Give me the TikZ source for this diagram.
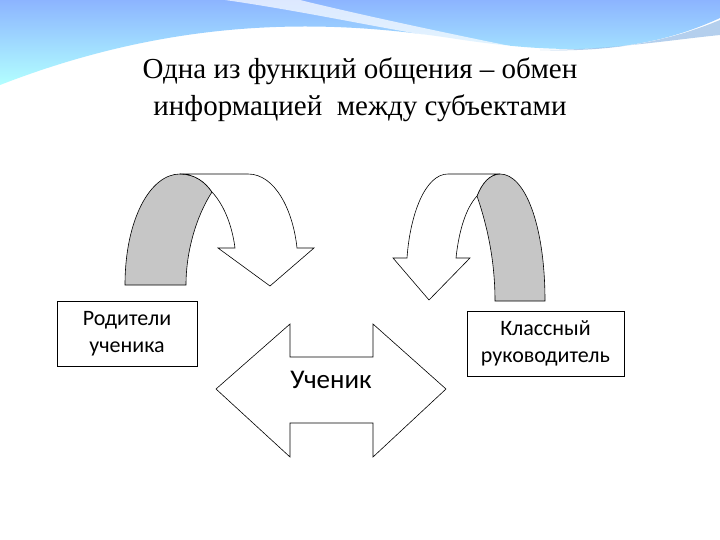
\documentclass[tikz,border=0pt]{standalone}
\usepackage{fontspec}
\setmainfont{Liberation Serif}
\newfontfamily\boxfont{Carlito}
\begin{document}
\begin{tikzpicture}[x=1pt,y=-1pt,
  shp/.style={draw=black,line width=0.6pt,line join=miter},
  lbl/.style={font=\boxfont\fontsize{22}{27}\selectfont,align=center}]
\useasboundingbox (0,0) rectangle (720,540);
\fill[white] (0,0) rectangle (720,540);
% top wave
\shade[top color=cyan!35!blue!45,bottom color=cyan!30] (0,0) -- (720,0) -- (720,18) .. controls (640,55) and (560,55) .. (450,38) .. controls (330,20) and (180,15) .. (0,85) -- cycle;
\fill[white,opacity=0.7] (225,0) .. controls (330,15) and (430,40) .. (530,50) .. controls (430,30) and (340,10) .. (300,0) -- cycle;
\fill[cyan!60!blue!50,opacity=0.6] (720,20) .. controls (660,45) and (600,52) .. (540,50) .. controls (610,50) and (670,40) .. (720,35) -- cycle;
% title
\node[font=\fontsize{29}{37}\selectfont,align=center] (title) at (360,90) {Одна из функций общения – обмен\\информацией\ \ между субъектами};
% left curved arrow
\filldraw[shp,fill=gray!45] (125,285) .. controls (125,220) and (150,174) .. (180,174) .. controls (195,174) and (205,182) .. (212,192) .. controls (197,215) and (186,250) .. (186,285) -- cycle;
\filldraw[shp,fill=white] (180,174) -- (248,174) .. controls (275,174) and (293,210) .. (297,248) -- (314,248) -- (270,286) -- (218,248) -- (235,248) .. controls (232,225) and (224,205) .. (212,192) .. controls (205,182) and (195,174) .. (180,174);
% right curved arrow
\filldraw[shp,fill=gray!45] (545,301) .. controls (545,225) and (525,174) .. (500,174) .. controls (490,174) and (482,183) .. (477,196) .. controls (487,225) and (495,260) .. (495,301) -- cycle;
\filldraw[shp,fill=white] (500,174) -- (448,174) .. controls (425,174) and (410,215) .. (407,258) -- (393,258) -- (429,300) -- (470,258) -- (456,258) .. controls (459,230) and (466,208) .. (477,196) .. controls (482,183) and (490,174) .. (500,174);
% boxes
\node[shp,lbl,minimum width=140pt,minimum height=65pt,inner sep=1pt] (par) at (127,333.5) {Родители\\ученика};
\node[shp,lbl,minimum width=157pt,minimum height=65pt,inner sep=1pt] (cls) at (545.5,343.5) {Классный\\руководитель};
% double arrow
\draw[shp,fill=white] (216,389) -- (290,324) -- (290,357) -- (373,357) -- (373,324) -- (446,389) -- (373,457) -- (373,423) -- (290,423) -- (290,457) -- cycle;
\node[lbl,font=\boxfont\fontsize{27}{30}\selectfont] (uch) at (331,380) {Ученик};
\end{tikzpicture}
\end{document}
